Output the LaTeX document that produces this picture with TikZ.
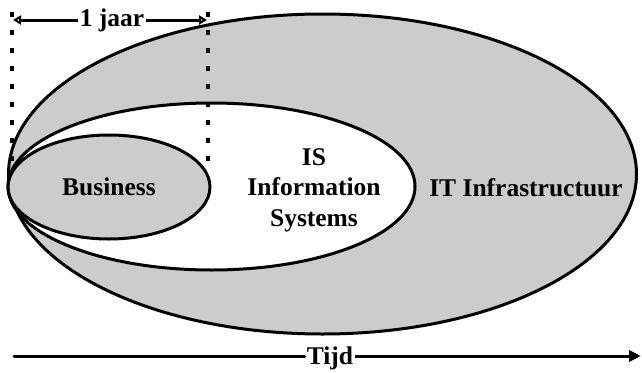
\documentclass[tikz,border=0pt]{standalone}
\usepackage{fontspec}
\setmainfont{Liberation Serif}
\usetikzlibrary{arrows.meta}
\definecolor{lightgray}{HTML}{CCCCCC}
\begin{document}
\begin{tikzpicture}[x=1pt,y=-1pt,
  lab/.style={font=\fontsize{25.5}{30.5}\selectfont\bfseries, align=center, inner sep=1pt},
  ell/.style={draw=black, line width=3pt},
  dots/.style={line width=3.2pt, dash pattern=on 5pt off 13pt},
  arr/.style={line width=3pt}]
\useasboundingbox (0,0) rectangle (642,372);
% ellipses
\draw[ell, fill=lightgray] (322.5,174) ellipse [x radius=314, y radius=160];
\draw[ell, fill=white] (211.5,186.5) ellipse [x radius=203.5, y radius=83.5];
\draw[ell, fill=lightgray] (109,187) ellipse [x radius=101, y radius=52];
% dotted guide lines
\coordinate (d1t) at (12,12);
\coordinate (d1b) at (12,170);
\coordinate (d2t) at (208,12);
\coordinate (d2b) at (208,170);
\draw[dots] (d1t) -- (d1b);
\draw[dots] (d2t) -- (d2b);
% labels
\node[lab] (business) at (109,187) {Business};
\node[lab] (is) at (314,190) {IS\\Information\\Systems};
\node[lab] (it) at (526,188) {IT Infrastructuur};
% 1 jaar arrow
\node[lab, inner sep=2pt] (jaar) at (112,20) {1 jaar};
\coordinate (jl) at (13,20);
\coordinate (jr) at (207,20);
\draw[arr, -{Triangle[open, length=8pt, width=9pt, fill=white, line width=2.5pt]}] (jaar.west) -- (jl);
\draw[arr, -{Triangle[open, length=8pt, width=9pt, fill=white, line width=2.5pt]}] (jaar.east) -- (jr);
% Tijd arrow
\node[lab, inner sep=2pt] (tijd) at (330,358) {Tijd};
\coordinate (tl) at (14,356);
\coordinate (tr) at (641,356);
\draw[arr, line cap=round] (tl) -- (tl -| tijd.west);
\draw[arr, -{Triangle[length=12pt, width=11pt]}] (tijd.east |- tr) -- (tr);
\end{tikzpicture}
\end{document}
